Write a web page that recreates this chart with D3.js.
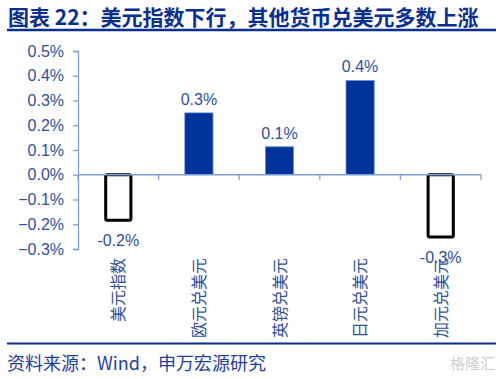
<!DOCTYPE html>
<html><head><meta charset="utf-8">
<script src="https://cdn.jsdelivr.net/npm/d3@7"></script>
<style>
html,body{margin:0;padding:0;background:#fff;}
svg{display:block;}
</style></head>
<body><svg id="c" width="500" height="379"></svg>
<script>
const categories = ["美元指数","欧元兑美元","英镑兑美元","日元兑美元","加元兑美元"];
const values = [-0.19, 0.25, 0.113, 0.381, -0.258];
const valueLabels = ["-0.2%","0.3%","0.1%","0.4%","-0.3%"];
const yTicks = [0.5,0.4,0.3,0.2,0.1,0.0,-0.1,-0.2,-0.3];
const titleText = "图表 22：美元指数下行，其他货币兑美元多数上涨";
const sourceText = "资料来源：Wind，申万宏源研究";

const svg = d3.select("#c");
const navy = "#0b2f8f";
const axisBlue = "#7f9fd6";
const textBlue = "#2f4f9a";
const cjk = "'Noto Sans CJK SC','Noto Sans',sans-serif";
const latin = "'Liberation Sans',Arial,sans-serif";

svg.append("text").attr("x",8).attr("y",24.5)
  .attr("font-family",cjk).attr("font-weight","bold").attr("font-size",21)
  .attr("fill",navy).text(titleText);
svg.append("line").attr("x1",7).attr("x2",496).attr("y1",30).attr("y2",30)
  .attr("stroke",navy).attr("stroke-width",2.5);

const x = d3.scaleBand().domain(categories).range([78,481]).paddingInner(0.65).paddingOuter(0.325);
const y = d3.scaleLinear().domain([-0.3,0.5]).range([249,51]);

// y axis
const yAxis = d3.axisLeft(y).tickValues(yTicks).tickSize(5).tickPadding(9)
  .tickFormat(d => d3.format(".1f")(d) + "%");
const gy = svg.append("g").attr("transform","translate(78,0)").call(yAxis);
gy.select(".domain").attr("stroke",axisBlue).attr("stroke-width",1.3);
gy.selectAll(".tick line").attr("stroke",axisBlue).attr("stroke-width",1.3);
gy.selectAll(".tick text").attr("font-family",latin).attr("font-size",16).attr("fill",textBlue);

// bars
svg.selectAll("rect.bar").data(values).enter().append("rect")
  .attr("class","bar")
  .attr("x",(d,i)=>x(categories[i]) + (d<0?1.5:0))
  .attr("width",(d)=>x.bandwidth() - (d<0?3:0))
  .attr("y",d=> d>=0 ? y(d) : y(0))
  .attr("height",d=> Math.abs(y(d)-y(0)) - (d<0?1.5:0))
  .attr("rx",d=>d<0?1.5:0)
  .attr("fill",d=>d>=0?"#003399":"#ffffff")
  .attr("stroke",d=>d>=0?"#6f8fcf":"#000")
  .attr("stroke-width",d=>d>=0?0.8:3);

// zero line with category ticks
svg.append("line").attr("x1",78).attr("x2",481).attr("y1",y(0)).attr("y2",y(0))
  .attr("stroke",axisBlue).attr("stroke-width",1.3);
const bounds = [78].concat(categories.map(c=>x(c)+x.bandwidth()+x.step()*x.paddingInner()/2));
svg.selectAll("line.ct").data(bounds).enter().append("line").attr("class","ct")
  .attr("x1",d=>d).attr("x2",d=>d).attr("y1",y(0)).attr("y2",y(0)+5)
  .attr("stroke",axisBlue).attr("stroke-width",1.3);

// category labels (vertical)
svg.selectAll("text.cl").data(categories).enter().append("text").attr("class","cl")
  .attr("transform",c=>`translate(${x(c)+x.bandwidth()/2+6},258) rotate(-90)`)
  .attr("text-anchor","end").attr("font-family",cjk).attr("font-size",16)
  .attr("fill",textBlue).text(c=>c);

// value labels
svg.selectAll("text.vl").data(values).enter().append("text").attr("class","vl")
  .attr("x",(d,i)=>x(categories[i])+x.bandwidth()/2)
  .attr("y",d=> d>=0 ? y(d)-8 : y(d)+24)
  .attr("text-anchor","middle").attr("font-family",latin).attr("font-size",16)
  .attr("fill",textBlue).text((d,i)=>valueLabels[i]);

// bottom
svg.append("line").attr("x1",7).attr("x2",496).attr("y1",343.5).attr("y2",343.5)
  .attr("stroke",navy).attr("stroke-width",2);
svg.append("text").attr("x",7).attr("y",370)
  .attr("font-family",cjk).attr("font-size",18).attr("fill","#1f3f99").text(sourceText);
svg.append("text").attr("x",495).attr("y",369).attr("text-anchor","end")
  .attr("font-family",cjk).attr("font-size",15).attr("fill","#d0d0d0").text("格隆汇");
</script></body></html>
